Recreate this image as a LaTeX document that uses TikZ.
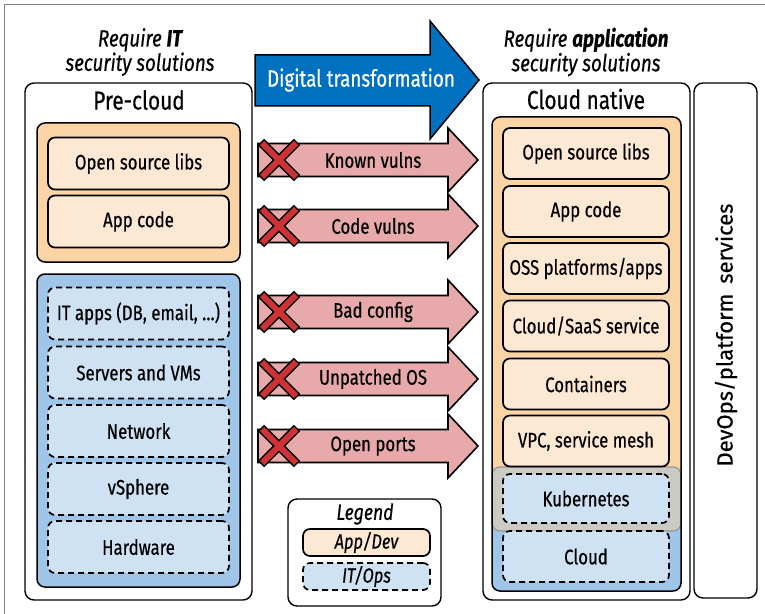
\documentclass[tikz,border=0pt]{standalone}
\usepackage{fontspec}
\setmainfont{Fira Sans}[FakeStretch=0.8, FakeBold=0.5]
\newfontfamily\sidefont{Fira Sans}[FakeBold=0.5]
\usetikzlibrary{calc}

\definecolor{appfill}{RGB}{251,212,166}
\definecolor{applight}{RGB}{253,232,211}
\definecolor{itfill}{RGB}{159,197,232}
\definecolor{itlight}{RGB}{207,226,243}
\definecolor{k8sgrey}{RGB}{203,203,195}
\definecolor{k8sedge}{RGB}{150,150,145}
\definecolor{dtblue}{RGB}{0,112,192}
\definecolor{vulnpink}{RGB}{231,169,169}
\definecolor{xred}{RGB}{206,50,52}
\definecolor{framegrey}{RGB}{130,130,130}

\newcommand\boxfont{\fontsize{21bp}{24bp}\selectfont}
\newcommand\hdrfont{\fontsize{23.5bp}{21bp}\selectfont\itshape}
\newcommand\titlefont{\fontsize{26bp}{28bp}\selectfont}

\tikzset{
  panel/.style={draw=black, line width=1.4bp, rounded corners=9bp, fill=white},
  group/.style={draw=black, line width=1.5bp, rounded corners=8bp},
  stackbox/.style={draw=black, line width=1.7bp, rounded corners=7bp,
    inner sep=0pt, font=\boxfont},
  appbox/.style={stackbox, fill=applight},
  itbox/.style={stackbox, fill=itlight, dash pattern=on 6bp off 4bp},
  leftbox/.style={minimum width=181bp, minimum height=52bp},
  rightbox/.style={minimum width=166bp, minimum height=51bp},
  vuln/.style={draw=black, line width=1.6bp, fill=vulnpink, line join=miter},
  xdark/.style={draw=black, line width=9bp, shorten <=-1.5bp, shorten >=-1.5bp},
  xlight/.style={draw=xred, line width=6bp},
}

% a crossed-out threat arrow: #1 name, #2 centre y, #3 label
\newcommand\threat[3]{%
  \draw[vuln] (258,#2-16.5) -- (448,#2-16.5) -- (448,#2-32) -- (478,#2)
    -- (448,#2+32) -- (448,#2+16.5) -- (258,#2+16.5) -- cycle;
  \node[font=\boxfont] (#1) at (373,#2) {#3};
  \coordinate (#1-x) at (279,#2);
  \draw[xdark] ($(#1-x)+(-17,-17)$) -- ($(#1-x)+(17,17)$);
  \draw[xdark] ($(#1-x)+(-17,17)$) -- ($(#1-x)+(17,-17)$);
  \draw[xlight] ($(#1-x)+(-17,-17)$) -- ($(#1-x)+(17,17)$);
  \draw[xlight] ($(#1-x)+(-17,17)$) -- ($(#1-x)+(17,-17)$);
}

\begin{document}
\begin{tikzpicture}[x=1bp, y=-1bp]
\useasboundingbox (0,0) rectangle (765,614);

% figure frame
\draw[framegrey, line width=0.8bp] (4,614) -- (4,4) -- (765,4);

% headers
\node[font=\hdrfont, align=center] (hdrleft) at (140,52)
  {Require \textbf{IT}\\security solutions};
\node[font=\hdrfont, align=center] (hdrright) at (586,52)
  {Require \textbf{application}\\security solutions};

% digital transformation arrow
\draw[fill=dtblue, draw=black, line width=1.5bp, line join=miter]
  (255,55) -- (430,55) -- (430,21) -- (479,80) -- (430,139) -- (430,106)
  -- (255,106) -- cycle;
\node[font=\fontsize{23.5bp}{26bp}\selectfont, text=white] (dt) at (361,80)
  {Digital transformation};

% ---------- pre-cloud ----------
\draw[panel] (25,83) rectangle (252,600);
\node[font=\titlefont] (pre) at (139,100) {Pre-cloud};

\draw[group, fill=appfill] (37,123) rectangle (240,262);
\node[appbox, leftbox] (l-osl) at (138.5,163.5) {Open source libs};
\node[appbox, leftbox] (l-app) at (138.5,221.5) {App code};

\draw[group, fill=itfill] (37,274) rectangle (240,587);
\node[itbox, leftbox] (l-itapps) at (138.5,313.5) {IT apps (DB, email, …)};
\node[itbox, leftbox] (l-srv) at (138.5,372.5) {Servers and VMs};
\node[itbox, leftbox] (l-net) at (138.5,431) {Network};
\node[itbox, leftbox] (l-vs) at (138.5,489) {vSphere};
\node[itbox, leftbox] (l-hw) at (138.5,547) {Hardware};

% ---------- threats ----------
\threat{known}{160}{Known vulns}
\threat{code}{226}{Code vulns}
\threat{config}{312}{Bad config}
\threat{os}{379}{Unpatched OS}
\threat{ports}{446}{Open ports}

% ---------- legend ----------
\draw[panel] (288,499) rectangle (441,606);
\node[font=\fontsize{22bp}{24bp}\selectfont\itshape] (leg) at (365,514) {Legend};
\node[appbox, minimum width=127bp, minimum height=27bp,
  font=\fontsize{20.5bp}{22bp}\selectfont\itshape] (leg-app) at (366.5,542.5) {App/Dev};
\node[itbox, minimum width=127bp, minimum height=27bp,
  font=\fontsize{20.5bp}{22bp}\selectfont\itshape] (leg-it) at (366.5,576.5) {IT/Ops};

% ---------- cloud native ----------
\draw[panel] (483,83) rectangle (690,600);
\node[font=\titlefont] (native) at (586,99) {Cloud native};

\fill[appfill, rounded corners=8bp] (492,117) rectangle (681,591);
\fill[itfill, rounded corners=8bp] (492,500) rectangle (681,591);
\draw[draw=k8sedge, fill=k8sgrey, line width=1.2bp, rounded corners=8bp]
  (492,467) rectangle (681,531);
\draw[group] (492,117) rectangle (681,591);

\node[appbox, rightbox] (r-osl) at (586,153.5) {Open source libs};
\node[appbox, rightbox] (r-app) at (586,211.5) {App code};
\node[appbox, rightbox] (r-oss) at (586,268.5) {OSS platforms/apps};
\node[appbox, rightbox] (r-saas) at (586,326) {Cloud/SaaS service};
\node[appbox, rightbox] (r-cont) at (586,384) {Containers};
\node[appbox, rightbox] (r-vpc) at (586,441) {VPC, service mesh};
\node[itbox, rightbox, minimum height=49bp] (r-k8s) at (586,498.5) {Kubernetes};
\node[itbox, rightbox] (r-cloud) at (586,556.5) {Cloud};

% ---------- platform services ----------
\draw[panel] (694,83) rectangle (757,598);
\node[font=\sidefont\fontsize{22bp}{26bp}\selectfont, rotate=90] (devops) at (726,335)
  {DevOps/platform\hspace{0.45em}services};

\end{tikzpicture}
\end{document}
